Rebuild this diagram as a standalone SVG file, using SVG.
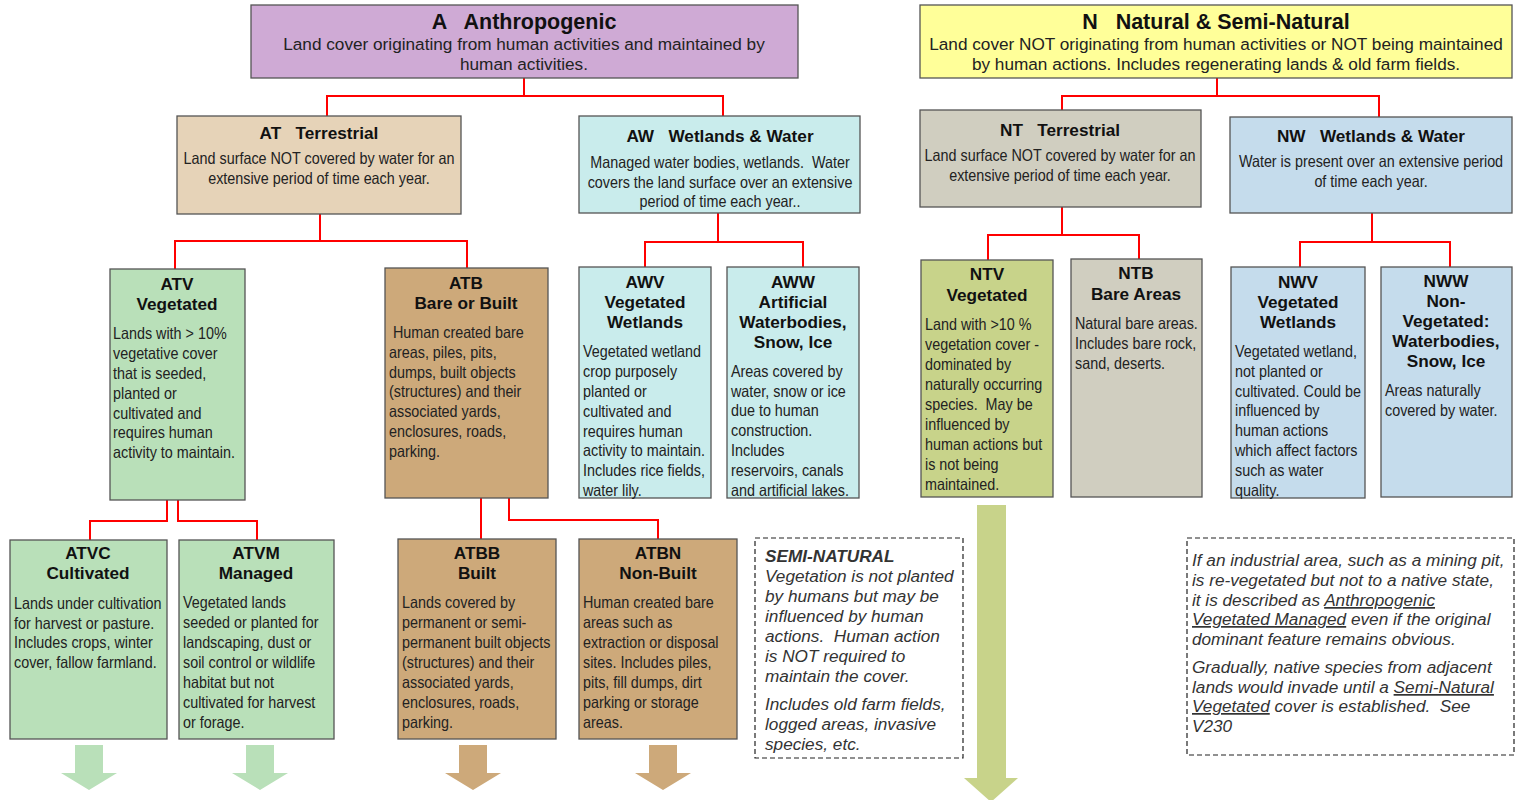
<svg xmlns="http://www.w3.org/2000/svg" width="1518" height="800" viewBox="0 0 1518 800" xml:space="preserve">
<style>
text{white-space:pre}
.box{stroke:#555;stroke-width:1.3}
.t1{font-family:"Liberation Sans",Arial,sans-serif;font-weight:bold;font-size:21.5px;fill:#111;text-anchor:middle}
.t2{font-family:"Liberation Sans",Arial,sans-serif;font-weight:bold;font-size:17.2px;fill:#111;text-anchor:middle}
.s1{font-family:"Liberation Sans",Arial,sans-serif;font-size:17.2px;fill:#222;text-anchor:middle}
.b{font-family:"Liberation Sans",Arial,sans-serif;font-size:16.5px;fill:#222}
.bc{font-family:"Liberation Sans",Arial,sans-serif;font-size:16.5px;fill:#222;text-anchor:middle}
.i{font-family:"Liberation Sans",Arial,sans-serif;font-style:italic;font-size:17.2px;fill:#333}
.u{text-decoration:underline}
.con{fill:none;stroke:#ff0000;stroke-width:2}
.dash{fill:#fff;stroke:#222;stroke-width:1.2;stroke-dasharray:5,3}
.pu{fill:#CFAAD5}.ye{fill:#FFFF99}.tan{fill:#E6D3B8}.cy{fill:#C9ECEC}.gr{fill:#D0CEC0}.bl{fill:#C5DCEC}.gn{fill:#B9E0B9}.br{fill:#CDA97A}.ol{fill:#C8D38A}
</style>
<rect width="1518" height="800" fill="#fff"/>
<g id="connectors">
<path class="con" d="M524,78V96M327,116V96H723V117"/>
<path class="con" d="M1217,78V96M1062,110V96H1379V117"/>
<path class="con" d="M320,214V241M175,269V241H467V268"/>
<path class="con" d="M718,213V242M645,267V242H803V267"/>
<path class="con" d="M1062,207V235M988,260V235H1139V259"/>
<path class="con" d="M1372,213V242M1300,267V242H1450V267"/>
<path class="con" d="M167,500V521H90V540M178,500V521H257V540"/>
<path class="con" d="M481,498V539M509,498V520H658V539"/>
</g>
<g id="arrows">
<polygon class="gn" points="75,745 103,745 103,773 117,773 89,790 61,773 75,773"/>
<polygon class="gn" points="246,745 274,745 274,773 288,773 260,790 232,773 246,773"/>
<polygon class="br" points="459,745 487,745 487,773 501,773 473,790 445,773 459,773"/>
<polygon class="br" points="649,745 677,745 677,773 691,773 663,790 635,773 649,773"/>
<polygon class="ol" points="977,505 1006,505 1006,778 1018,778 991,802 964,778 977,778"/>
</g>
<g id="A">
<rect class="box pu" x="251" y="5" width="547" height="73"/>
<text class="t1" x="524" y="29">A   Anthropogenic</text>
<text class="s1" x="524" y="50">Land cover originating from human activities and maintained by</text>
<text class="s1" x="524" y="70">human activities.</text>
</g>
<g id="N">
<rect class="box ye" x="920" y="5" width="592" height="73"/>
<text class="t1" x="1216" y="29">N   Natural &amp; Semi-Natural</text>
<text class="s1" x="1216" y="50">Land cover NOT originating from human activities or NOT being maintained</text>
<text class="s1" x="1216" y="70">by human actions. Includes regenerating lands &amp; old farm fields.</text>
</g>
<g id="AT">
<rect class="box tan" x="177" y="116" width="284" height="98"/>
<text class="t2" x="319" y="139">AT   Terrestrial</text>
<g transform="translate(319,0) scale(0.87,1)">
<text class="bc" x="0" y="164">Land surface NOT covered by water for an</text>
<text class="bc" x="0" y="184">extensive period of time each year.</text>
</g>
</g>
<g id="AW">
<rect class="box cy" x="579" y="116" width="281" height="97"/>
<text class="t2" x="720" y="142">AW   Wetlands &amp; Water</text>
<g transform="translate(720,0) scale(0.87,1)">
<text class="bc" x="0" y="168">Managed water bodies, wetlands.  Water</text>
<text class="bc" x="0" y="188">covers the land surface over an extensive</text>
<text class="bc" x="0" y="207">period of time each year..</text>
</g>
</g>
<g id="NT">
<rect class="box gr" x="920" y="110" width="281" height="97"/>
<text class="t2" x="1060" y="136">NT   Terrestrial</text>
<g transform="translate(1060,0) scale(0.87,1)">
<text class="bc" x="0" y="161">Land surface NOT covered by water for an</text>
<text class="bc" x="0" y="181">extensive period of time each year.</text>
</g>
</g>
<g id="NW">
<rect class="box bl" x="1230" y="117" width="282" height="96"/>
<text class="t2" x="1371" y="142">NW   Wetlands &amp; Water</text>
<g transform="translate(1371,0) scale(0.87,1)">
<text class="bc" x="0" y="167">Water is present over an extensive period</text>
<text class="bc" x="0" y="187">of time each year.</text>
</g>
</g>
<g id="ATV">
<rect class="box gn" x="110" y="269" width="135" height="231"/>
<text class="t2" x="177" y="290">ATV</text>
<text class="t2" x="177" y="310">Vegetated</text>
<g transform="translate(113,0) scale(0.87,1)">
<text class="b" x="0" y="339">Lands with &gt; 10%</text>
<text class="b" x="0" y="359">vegetative cover</text>
<text class="b" x="0" y="379">that is seeded,</text>
<text class="b" x="0" y="399">planted or</text>
<text class="b" x="0" y="419">cultivated and</text>
<text class="b" x="0" y="438">requires human</text>
<text class="b" x="0" y="458">activity to maintain.</text>
</g>
</g>
<g id="ATB">
<rect class="box br" x="385" y="268" width="163" height="230"/>
<text class="t2" x="466" y="289">ATB</text>
<text class="t2" x="466" y="309">Bare or Built</text>
<g transform="translate(389,0) scale(0.87,1)">
<text class="b" x="0" y="338"> Human created bare</text>
<text class="b" x="0" y="358">areas, piles, pits,</text>
<text class="b" x="0" y="378">dumps, built objects</text>
<text class="b" x="0" y="397">(structures) and their</text>
<text class="b" x="0" y="417">associated yards,</text>
<text class="b" x="0" y="437">enclosures, roads,</text>
<text class="b" x="0" y="457">parking.</text>
</g>
</g>
<g id="AWV">
<rect class="box cy" x="579" y="267" width="132" height="231"/>
<text class="t2" x="645" y="288">AWV</text>
<text class="t2" x="645" y="308">Vegetated</text>
<text class="t2" x="645" y="328">Wetlands</text>
<g transform="translate(583,0) scale(0.87,1)">
<text class="b" x="0" y="357">Vegetated wetland</text>
<text class="b" x="0" y="377">crop purposely</text>
<text class="b" x="0" y="397">planted or</text>
<text class="b" x="0" y="417">cultivated and</text>
<text class="b" x="0" y="437">requires human</text>
<text class="b" x="0" y="456">activity to maintain.</text>
<text class="b" x="0" y="476">Includes rice fields,</text>
<text class="b" x="0" y="496">water lily.</text>
</g>
</g>
<g id="AWW">
<rect class="box cy" x="727" y="267" width="132" height="231"/>
<text class="t2" x="793" y="288">AWW</text>
<text class="t2" x="793" y="308">Artificial</text>
<text class="t2" x="793" y="328">Waterbodies,</text>
<text class="t2" x="793" y="348">Snow, Ice</text>
<g transform="translate(731,0) scale(0.87,1)">
<text class="b" x="0" y="377">Areas covered by</text>
<text class="b" x="0" y="397">water, snow or ice</text>
<text class="b" x="0" y="416">due to human</text>
<text class="b" x="0" y="436">construction.</text>
<text class="b" x="0" y="456">Includes</text>
<text class="b" x="0" y="476">reservoirs, canals</text>
<text class="b" x="0" y="496">and artificial lakes.</text>
</g>
</g>
<g id="NTV">
<rect class="box ol" x="921" y="260" width="132" height="237"/>
<text class="t2" x="987" y="280">NTV</text>
<text class="t2" x="987" y="301">Vegetated</text>
<g transform="translate(925,0) scale(0.87,1)">
<text class="b" x="0" y="330">Land with &gt;10 %</text>
<text class="b" x="0" y="350">vegetation cover -</text>
<text class="b" x="0" y="370">dominated by</text>
<text class="b" x="0" y="390">naturally occurring</text>
<text class="b" x="0" y="410">species.  May be</text>
<text class="b" x="0" y="430">influenced by</text>
<text class="b" x="0" y="450">human actions but</text>
<text class="b" x="0" y="470">is not being</text>
<text class="b" x="0" y="490">maintained.</text>
</g>
</g>
<g id="NTB">
<rect class="box gr" x="1071" y="259" width="131" height="238"/>
<text class="t2" x="1136" y="279">NTB</text>
<text class="t2" x="1136" y="300">Bare Areas</text>
<g transform="translate(1075,0) scale(0.87,1)">
<text class="b" x="0" y="329">Natural bare areas.</text>
<text class="b" x="0" y="349">Includes bare rock,</text>
<text class="b" x="0" y="369">sand, deserts.</text>
</g>
</g>
<g id="NWV">
<rect class="box bl" x="1231" y="267" width="134" height="231"/>
<text class="t2" x="1298" y="288">NWV</text>
<text class="t2" x="1298" y="308">Vegetated</text>
<text class="t2" x="1298" y="328">Wetlands</text>
<g transform="translate(1235,0) scale(0.87,1)">
<text class="b" x="0" y="357">Vegetated wetland,</text>
<text class="b" x="0" y="377">not planted or</text>
<text class="b" x="0" y="397">cultivated. Could be</text>
<text class="b" x="0" y="416">influenced by</text>
<text class="b" x="0" y="436">human actions</text>
<text class="b" x="0" y="456">which affect factors</text>
<text class="b" x="0" y="476">such as water</text>
<text class="b" x="0" y="496">quality.</text>
</g>
</g>
<g id="NWW">
<rect class="box bl" x="1381" y="267" width="131" height="230"/>
<text class="t2" x="1446" y="287">NWW</text>
<text class="t2" x="1446" y="307">Non-</text>
<text class="t2" x="1446" y="327">Vegetated:</text>
<text class="t2" x="1446" y="347">Waterbodies,</text>
<text class="t2" x="1446" y="367">Snow, Ice</text>
<g transform="translate(1385,0) scale(0.87,1)">
<text class="b" x="0" y="396">Areas naturally</text>
<text class="b" x="0" y="416">covered by water.</text>
</g>
</g>
<g id="ATVC">
<rect class="box gn" x="10" y="540" width="157" height="199"/>
<text class="t2" x="88" y="559">ATVC</text>
<text class="t2" x="88" y="579">Cultivated</text>
<g transform="translate(14,0) scale(0.87,1)">
<text class="b" x="0" y="609">Lands under cultivation</text>
<text class="b" x="0" y="629">for harvest or pasture.</text>
<text class="b" x="0" y="648">Includes crops, winter</text>
<text class="b" x="0" y="668">cover, fallow farmland.</text>
</g>
</g>
<g id="ATVM">
<rect class="box gn" x="179" y="540" width="155" height="199"/>
<text class="t2" x="256" y="559">ATVM</text>
<text class="t2" x="256" y="579">Managed</text>
<g transform="translate(183,0) scale(0.87,1)">
<text class="b" x="0" y="608">Vegetated lands</text>
<text class="b" x="0" y="628">seeded or planted for</text>
<text class="b" x="0" y="648">landscaping, dust or</text>
<text class="b" x="0" y="668">soil control or wildlife</text>
<text class="b" x="0" y="688">habitat but not</text>
<text class="b" x="0" y="708">cultivated for harvest</text>
<text class="b" x="0" y="728">or forage.</text>
</g>
</g>
<g id="ATBB">
<rect class="box br" x="398" y="539" width="158" height="200"/>
<text class="t2" x="477" y="559">ATBB</text>
<text class="t2" x="477" y="579">Built</text>
<g transform="translate(402,0) scale(0.87,1)">
<text class="b" x="0" y="608">Lands covered by</text>
<text class="b" x="0" y="628">permanent or semi-</text>
<text class="b" x="0" y="648">permanent built objects</text>
<text class="b" x="0" y="668">(structures) and their</text>
<text class="b" x="0" y="688">associated yards,</text>
<text class="b" x="0" y="708">enclosures, roads,</text>
<text class="b" x="0" y="728">parking.</text>
</g>
</g>
<g id="ATBN">
<rect class="box br" x="579" y="539" width="158" height="200"/>
<text class="t2" x="658" y="559">ATBN</text>
<text class="t2" x="658" y="579">Non-Built</text>
<g transform="translate(583,0) scale(0.87,1)">
<text class="b" x="0" y="608">Human created bare</text>
<text class="b" x="0" y="628">areas such as</text>
<text class="b" x="0" y="648">extraction or disposal</text>
<text class="b" x="0" y="668">sites. Includes piles,</text>
<text class="b" x="0" y="688">pits, fill dumps, dirt</text>
<text class="b" x="0" y="708">parking or storage</text>
<text class="b" x="0" y="728">areas.</text>
</g>
</g>
<g id="note-semi-natural">
<rect class="dash" x="755" y="538" width="208" height="220"/>
<text class="i" x="765" y="562" font-weight="bold">SEMI-NATURAL</text>
<text class="i" x="765" y="582">Vegetation is not planted</text>
<text class="i" x="765" y="602">by humans but may be</text>
<text class="i" x="765" y="622">influenced by human</text>
<text class="i" x="765" y="642">actions.  Human action</text>
<text class="i" x="765" y="662">is NOT required to</text>
<text class="i" x="765" y="682">maintain the cover.</text>
<text class="i" x="765" y="710">Includes old farm fields,</text>
<text class="i" x="765" y="730">logged areas, invasive</text>
<text class="i" x="765" y="750">species, etc.</text>
</g>
<g id="note-industrial">
<rect class="dash" x="1187" y="538" width="327" height="217"/>
<text class="i" x="1192" y="566">If an industrial area, such as a mining pit,</text>
<text class="i" x="1192" y="586">is re-vegetated but not to a native state,</text>
<text class="i" x="1192" y="606">it is described as <tspan class="u">Anthropogenic</tspan></text>
<text class="i" x="1192" y="625"><tspan class="u">Vegetated Managed</tspan> even if the original</text>
<text class="i" x="1192" y="645">dominant feature remains obvious.</text>
<text class="i" x="1192" y="673">Gradually, native species from adjacent</text>
<text class="i" x="1192" y="693">lands would invade until a <tspan class="u">Semi-Natural</tspan></text>
<text class="i" x="1192" y="712"><tspan class="u">Vegetated</tspan> cover is established.  See</text>
<text class="i" x="1192" y="732">V230</text>
</g>
</svg>
